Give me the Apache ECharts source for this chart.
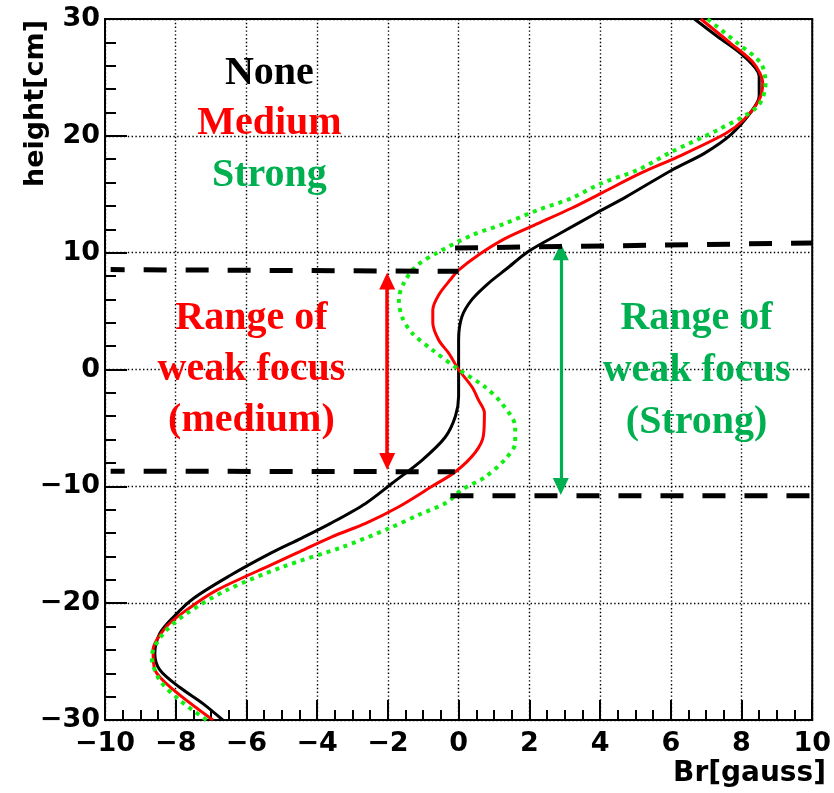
<!DOCTYPE html>
<html>
<head>
<meta charset="utf-8">
<script src="https://cdn.jsdelivr.net/npm/echarts@6/dist/echarts.min.js"></script>
<style>
  html, body { margin: 0; padding: 0; background: #fff; }
  #chart { width: 834px; height: 793px; }
</style>
</head>
<body>
<div id="chart"></div>
<script>
// Radial field profiles, each point is [Br (gauss), height (cm)]
const noneCurve = [
  [-6.67, -30], [-7.23, -28.6], [-7.89, -27.2], [-8.45, -25.7], [-8.59, -24.3],
  [-8.45, -22.6], [-8.07, -21.2], [-7.5, -19.6], [-6.5, -17.7], [-5.3, -15.7],
  [-4.45, -14.45], [-3.62, -13.17], [-2.63, -11.46], [-1.88, -9.74], [-1.03, -7.75],
  [-0.38, -5.8], [-0.09, -4.0], [0, -2.3], [0, 0], [0, 2.5], [0.09, 4.5],
  [0.38, 6.0], [0.85, 7.4], [1.35, 8.6], [1.97, 10.1], [2.9, 11.7], [3.9, 13.4],
  [4.75, 14.8], [6.05, 17.1], [6.95, 18.5], [7.7, 20.1], [8.26, 22.0],
  [8.5, 23.4], [8.5, 25.1], [8.07, 26.8], [7.32, 28.5], [6.67, 30]
];
const mediumCurve = [
  [-6.95, -30], [-8.07, -27.4], [-8.59, -25.7], [-8.64, -24.0], [-8.26, -22.0],
  [-7.7, -20.6], [-6.85, -18.9], [-5.21, -16.6], [-4.57, -15.7], [-3.57, -14.3],
  [-2.63, -13.17], [-1.69, -11.75], [-0.75, -10.0], [-0.09, -8.75], [0.47, -7.1],
  [0.7, -5.7], [0.73, -3.7], [0.56, -2.6], [0.38, -1.5], [0, 0], [-0.28, 1.4],
  [-0.56, 2.5], [-0.73, 4.0], [-0.73, 5.1], [-0.56, 6.4], [-0.23, 7.7], [0, 8.5],
  [0.56, 9.8], [1.31, 11.2], [2.25, 12.5], [3.19, 13.8], [4.04, 15.1], [5.15, 16.8],
  [6.2, 18.2], [7.55, 20.2], [8.07, 21.4], [8.5, 23.1], [8.6, 24.5], [8.35, 26.2],
  [7.7, 27.9], [6.85, 30]
];
const strongCurve = [
  [-7.13, -30], [-7.89, -28.3], [-8.45, -26.6], [-8.68, -24.6], [-8.35, -22.6],
  [-7.7, -20.9], [-6.57, -18.9], [-4.98, -16.9], [-3.29, -15.2], [-1.97, -13.6],
  [-1.1, -12.4], [-0.35, -11.4], [0.09, -10.3], [0.75, -9.2], [1.31, -7.7],
  [1.6, -6.3], [1.6, -4.9], [1.22, -2.9], [0.75, -1.5], [0, 0], [-0.75, 1.7],
  [-1.31, 3.1], [-1.6, 4.5], [-1.69, 6.0], [-1.55, 7.4], [-1.22, 8.8], [-0.6, 10.0],
  [0.38, 11.5], [1.31, 12.5], [2.25, 13.66], [3.19, 14.66], [4.04, 15.94],
  [5.07, 17.08], [6.0, 18.6], [7.32, 20.5], [8.45, 22.5], [8.68, 24.5], [8.55, 26.2],
  [7.9, 27.9], [7.04, 30]
];

// Edges of the weak-focus regions
const mediumUpper = [[-9.84, 8.55], [0, 8.4]];
const mediumLower = [[-9.84, -8.7], [-0.1, -8.75]];
const strongUpper = [[-0.1, 10.4], [10, 10.83]];
const strongLower = [[-0.23, -10.8], [10, -10.8]];

// Double arrows spanning each region: [x, top tip, bottom tip]
const mediumArrow = [-2.02, 8.3, -8.6];
const strongArrow = [2.89, 10.8, -10.75];

// Text blocks, anchored in data units
const curveNames = ['None', 'Medium', 'Strong'];
const curveNameAnchors = [[-5.35, 25.3], [-5.35, 21.0], [-5.35, 16.6]];
const mediumRangeText = 'Range of\nweak focus\n(medium)';
const strongRangeText = 'Range of\nweak focus\n(Strong)';
const mediumRangeAnchor = [-5.86, 0.0];
const strongRangeAnchor = [6.73, -0.1];

const xRange = [-10, 10, 2];
const yRange = [-30, 30, 10];

const RED = '#ff0000';
const GREEN_TEXT = '#00b050';
const GREEN_LINE = '#11ee11';
const AXIS_FONT = 'DejaVu Sans';
const SERIF = 'Liberation Serif';

const chart = echarts.init(document.getElementById('chart'), null, { renderer: 'canvas' });

const minusFmt = v => String(v).replace('-', '\u2212');

// arrow head size in pixels [width, length]
const HEAD = [16, 17];

function arrowMark(spec, color, width) {
  return {
    silent: true,
    symbol: ['triangle', 'triangle'],
    symbolSize: HEAD,
    label: { show: false },
    emphasis: { disabled: true },
    lineStyle: { type: 'solid', color: color, width: width, opacity: 1 },
    animation: false,
    data: [[{ coord: [spec[0], spec[1]] }, { coord: [spec[0], spec[2]] }]]
  };
}

function dashed(name, data, offset) {
  return {
    name: name,
    type: 'line',
    data: data,
    symbol: 'none',
    silent: true,
    z: 5,
    lineStyle: { color: '#000', width: 5, type: [23, 19], dashOffset: offset, cap: 'butt' }
  };
}

const gridDots = { color: '#000', width: 1.4, type: [1.4, 2.4] };

const option = {
  animation: false,
  backgroundColor: '#fff',
  grid: {
    left: 105, right: 19, top: 19, bottom: 73,
    show: true, borderColor: '#000', borderWidth: 2, backgroundColor: 'transparent'
  },
  xAxis: {
    type: 'value', min: xRange[0], max: xRange[1], interval: xRange[2],
    axisLine: { show: true, onZero: false, lineStyle: { color: '#000', width: 2 } },
    axisTick: { show: true, inside: true, length: 20, lineStyle: { color: '#000', width: 2 } },
    minorTick: { show: true, splitNumber: 4, length: 10, lineStyle: { color: '#000', width: 2 } },
    splitLine: { show: true, lineStyle: gridDots },
    axisLabel: {
      margin: 10, color: '#000', fontFamily: AXIS_FONT, fontWeight: 'bold', fontSize: 27,
      formatter: minusFmt
    }
  },
  yAxis: {
    type: 'value', min: yRange[0], max: yRange[1], interval: yRange[2],
    axisLine: { show: true, onZero: false, lineStyle: { color: '#000', width: 2 } },
    axisTick: { show: true, inside: true, length: 22, lineStyle: { color: '#000', width: 2 } },
    minorTick: { show: true, splitNumber: 5, length: 11, lineStyle: { color: '#000', width: 2 } },
    splitLine: { show: true, lineStyle: gridDots },
    axisLabel: {
      margin: 5, color: '#000', fontFamily: AXIS_FONT, fontWeight: 'bold', fontSize: 27,
      formatter: minusFmt
    }
  },
  series: [
    {
      name: 'None', type: 'line', data: noneCurve, symbol: 'none', smooth: 0.3,
      lineStyle: { color: '#000', width: 3 }, z: 2
    },
    {
      name: 'Medium', type: 'line', data: mediumCurve, symbol: 'none', smooth: 0.3,
      lineStyle: { color: RED, width: 3 }, z: 3
    },
    {
      name: 'Strong', type: 'line', data: strongCurve, symbol: 'none', smooth: 0.3,
      lineStyle: { color: GREEN_LINE, width: 4, type: [4, 5] }, z: 4
    },
    dashed('medium upper edge', mediumUpper, 9),
    dashed('medium lower edge', mediumLower, 9),
    dashed('strong upper edge', strongUpper, 0),
    dashed('strong lower edge', strongLower, 0)
  ]
};

chart.setOption(option);

const px = p => chart.convertToPixel({ gridIndex: 0 }, p);

// Arrow heads are centred on the line ends; pull the ends in so the tips land on the edges
const ySpan = px([0, 0])[1] - px([0, 1])[1];
const inset = (HEAD[1] / 2) / ySpan;
const shrink = spec => [spec[0], spec[1] - inset, spec[2] + inset];

const nameColors = ['#000', RED, GREEN_TEXT];
const serifFont = 'bold 40px "' + SERIF + '"';
const graphics = curveNames.map((t, i) => {
  const p = px(curveNameAnchors[i]);
  return {
    type: 'text', x: p[0], y: p[1], z: 20, silent: true,
    style: { text: t, fill: nameColors[i], font: serifFont, align: 'center', verticalAlign: 'middle' }
  };
});
const mp = px(mediumRangeAnchor);
graphics.push({
  type: 'text', x: mp[0], y: mp[1], z: 20, silent: true,
  style: {
    text: mediumRangeText, fill: RED, font: serifFont,
    lineHeight: 51, align: 'center', verticalAlign: 'middle'
  }
});
const sp = px(strongRangeAnchor);
graphics.push({
  type: 'text', x: sp[0], y: sp[1], z: 20, silent: true,
  style: {
    text: strongRangeText, fill: GREEN_TEXT, font: serifFont,
    lineHeight: 52, align: 'center', verticalAlign: 'middle'
  }
});
// Axis titles
graphics.push({
  type: 'text', x: 36, y: 20, rotation: Math.PI / 2, z: 20, silent: true,
  style: {
    text: 'height[cm]', fill: '#000', font: 'bold 27px "' + AXIS_FONT + '"',
    align: 'right', verticalAlign: 'middle'
  }
});
graphics.push({
  type: 'text', x: 826, y: 774, z: 20, silent: true,
  style: {
    text: 'Br[gauss]', fill: '#000', font: 'bold 28px "' + AXIS_FONT + '"',
    align: 'right', verticalAlign: 'middle'
  }
});

chart.setOption({
  series: [
    {}, {}, {},
    { markLine: arrowMark(shrink(mediumArrow), RED, 3.5) },
    {},
    { markLine: arrowMark(shrink(strongArrow), GREEN_TEXT, 3.2) },
    {}
  ],
  graphic: graphics
});
</script>
</body>
</html>
